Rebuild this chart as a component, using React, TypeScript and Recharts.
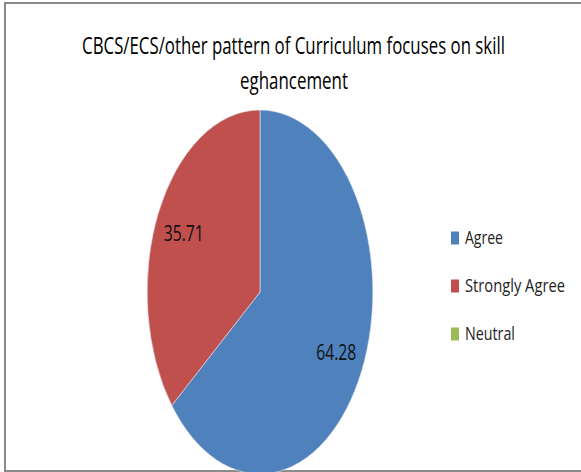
import { PieChart, Pie, Cell, Legend } from "recharts";

const CATEGORIES = ["Agree", "Strongly Agree", "Neutral"];
const VALUES = [64.28, 35.71, 0];
const COLORS = ["#4F81BD", "#C0504D", "#9BBB59"];
const TITLE_LINES = ["CBCS/ECS/other pattern of Curriculum focuses on skill", "eghancement"];

const data = CATEGORIES.map((name, i) => ({ name, value: VALUES[i] }));

// the picture is squeezed sideways, so the pie is an ellipse and the text is narrow
const RX_SCALE = 0.62;
const RAD = Math.PI / 180;
const FONT = "'Open Sans', 'Liberation Sans', sans-serif";

let measureCtx: CanvasRenderingContext2D | null = null;
function fitSize(text: string, width: number) {
  if (!measureCtx) measureCtx = document.createElement("canvas").getContext("2d");
  if (!measureCtx) return 16;
  measureCtx.font = `100px ${FONT}`;
  const w = measureCtx.measureText(text).width || 1;
  return (100 * width) / w;
}

// text set at a size whose natural width is `width`, then stretched up to look like `size`
function NarrowText({ x, y, width, size, anchor = "start", baseline, fill = "#111", children }: any) {
  const fs = fitSize(String(children), width);
  const sy = size / fs;
  return (
    <text
      transform={`translate(${x},${y}) scale(1,${sy})`}
      x={0}
      y={0}
      textAnchor={anchor}
      dominantBaseline={baseline}
      fontFamily={FONT}
      fontSize={fs}
      fill={fill}
    >
      {children}
    </text>
  );
}

function EllipseSector(props: any) {
  const { cx, cy, outerRadius, startAngle, endAngle, fill } = props;
  if (Math.abs(endAngle - startAngle) < 0.001) return null;
  const rx = outerRadius * RX_SCALE;
  const ry = outerRadius;
  const pt = (a: number) => [cx + rx * Math.cos(a * RAD), cy - ry * Math.sin(a * RAD)];
  const [x1, y1] = pt(startAngle);
  const [x2, y2] = pt(endAngle);
  const large = Math.abs(endAngle - startAngle) > 180 ? 1 : 0;
  const sweep = endAngle < startAngle ? 1 : 0;
  return (
    <path
      d={`M${cx},${cy} L${x1},${y1} A${rx},${ry} 0 ${large} ${sweep} ${x2},${y2} Z`}
      fill={fill}
      stroke="#e8e8f0"
      strokeWidth={0.6}
    />
  );
}

function renderLabel(props: any) {
  const { cx, cy, midAngle, outerRadius, value } = props;
  if (!value) return null;
  const f = 0.75;
  const x = cx + f * outerRadius * RX_SCALE * Math.cos(-midAngle * RAD);
  const y = cy + f * outerRadius * Math.sin(-midAngle * RAD);
  return (
    <NarrowText x={x} y={y} width={40} size={21} anchor="middle" baseline="central" fill="#111">
      {Number(value).toFixed(2)}
    </NarrowText>
  );
}

const LEGEND_WIDTHS = [38, 100, 50];

function renderLegend() {
  return (
    <svg width={130} height={130} style={{ display: "block" }}>
      {CATEGORIES.map((name, i) => {
        const cy = 14 + 48 * i;
        return (
          <g key={name}>
            <rect x={3} y={cy - 6.5} width={8} height={13} fill={COLORS[i]} />
            <NarrowText x={17} y={cy + 6} width={LEGEND_WIDTHS[i]} size={19} fill="#222">
              {name}
            </NarrowText>
          </g>
        );
      })}
    </svg>
  );
}

export default function App() {
  return (
    <div style={{ position: "absolute", left: 0, top: 0, width: 581, height: 472, background: "#fff", overflow: "hidden" }}>
      <div
        style={{
          position: "absolute",
          left: 4,
          top: 2,
          width: 620,
          height: 466,
          border: "2px solid #8a8a8a",
        }}
      />
      <div style={{ position: "absolute", left: 0, top: 0 }}>
        <PieChart width={581} height={472}>
          <Pie
            data={data}
            dataKey="value"
            nameKey="name"
            cx={255}
            cy={287}
            outerRadius={182}
            startAngle={90}
            endAngle={-270}
            shape={EllipseSector}
            label={renderLabel}
            labelLine={false}
            isAnimationActive={false}
          >
            {data.map((d, i) => (
              <Cell key={d.name} fill={COLORS[i]} />
            ))}
          </Pie>
          <Legend
            layout="vertical"
            align="right"
            verticalAlign="top"
            content={renderLegend}
            wrapperStyle={{ left: 448, top: 224, width: 130 }}
          />
        </PieChart>
      </div>
      <svg width={581} height={472} style={{ position: "absolute", left: 0, top: 0, pointerEvents: "none" }}>
        <NarrowText x={293.5} y={54} width={423} size={24} anchor="middle" fill="#000">
          {TITLE_LINES[0]}
        </NarrowText>
        <NarrowText x={294} y={89} width={108} size={24} anchor="middle" fill="#000">
          {TITLE_LINES[1]}
        </NarrowText>
      </svg>
    </div>
  );
}
